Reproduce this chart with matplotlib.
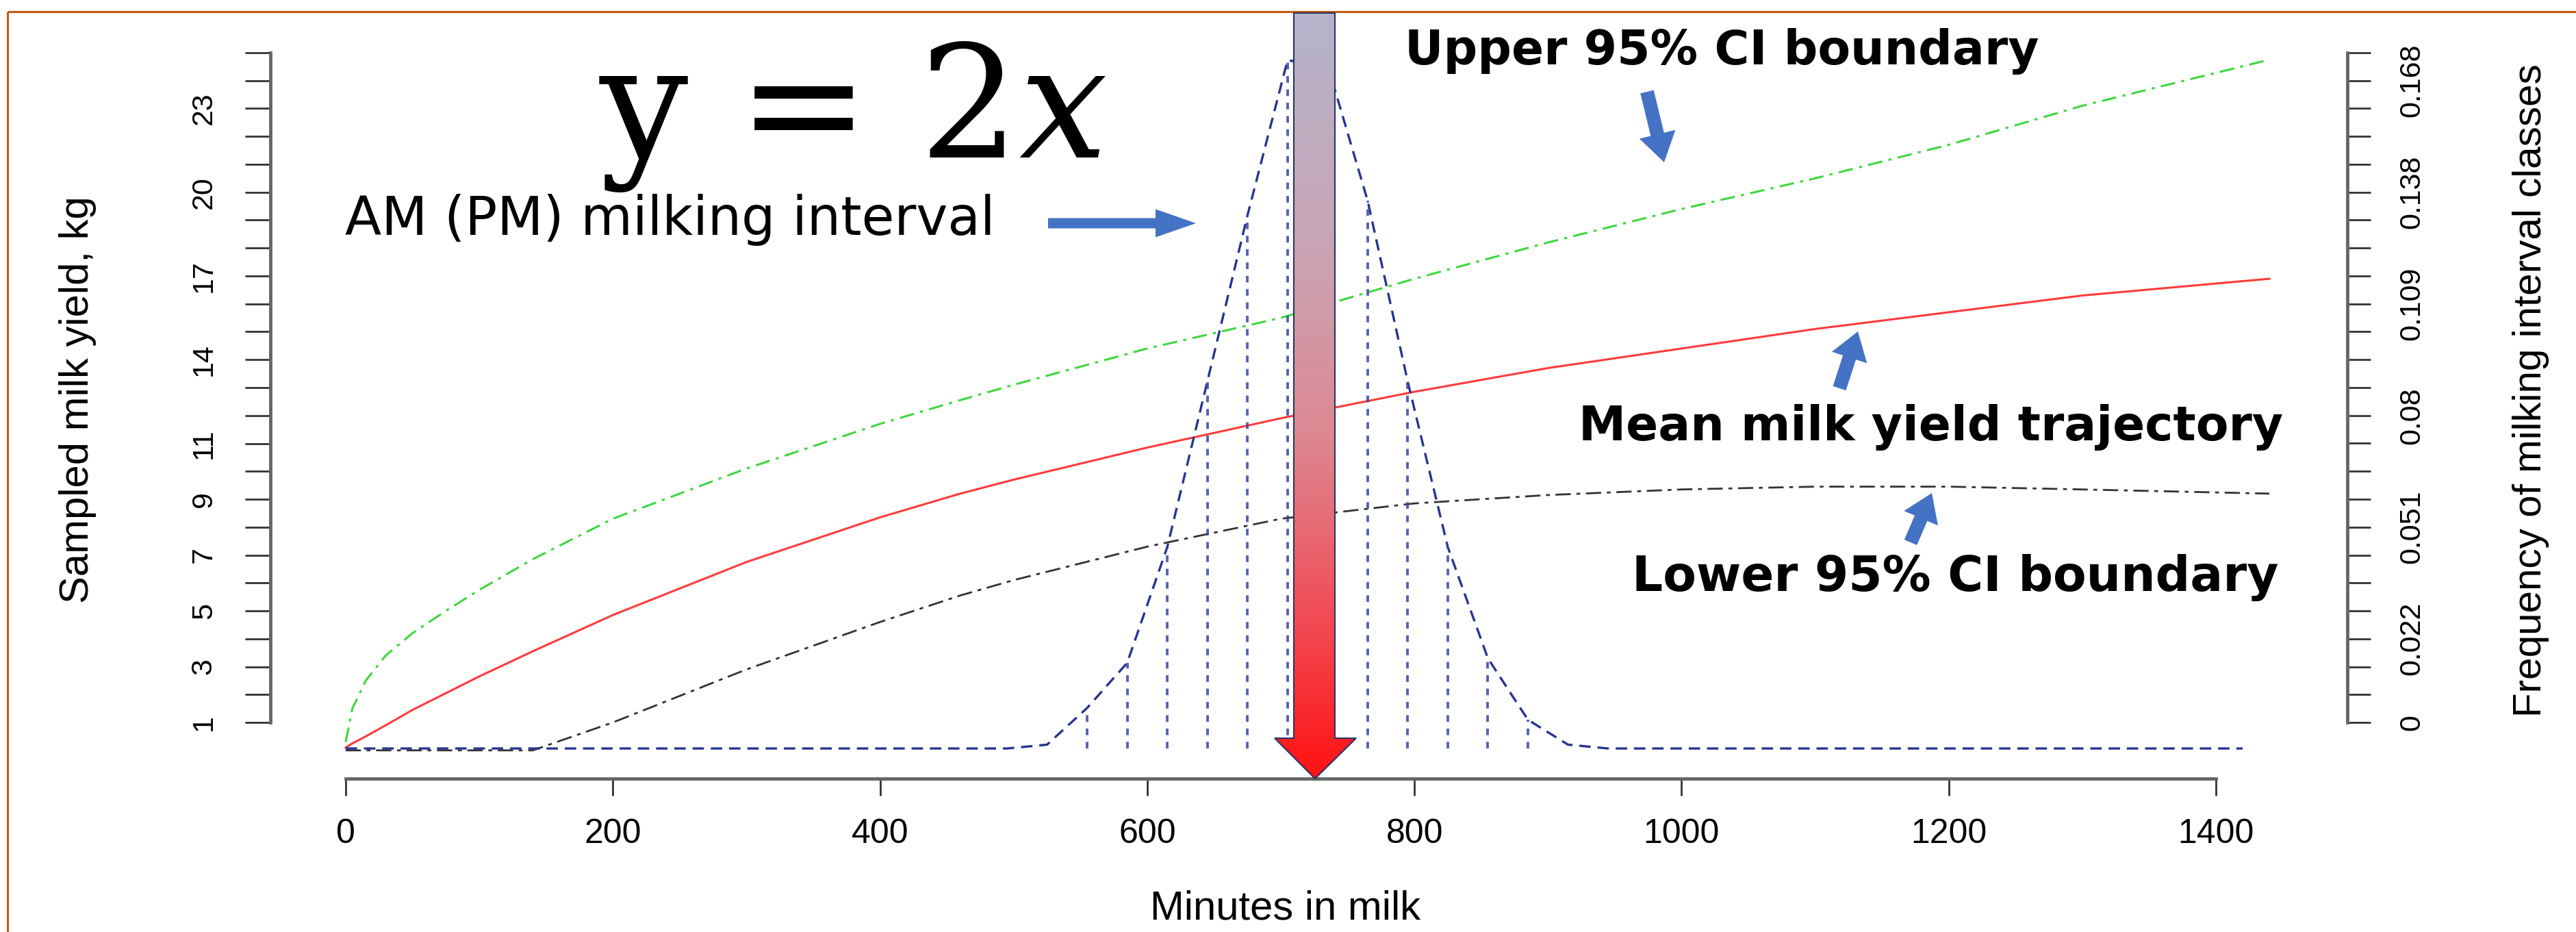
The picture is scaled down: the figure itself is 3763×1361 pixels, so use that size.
import numpy as np
import matplotlib
matplotlib.use("Agg")
import matplotlib.pyplot as plt
from matplotlib.colors import LinearSegmentedColormap
from matplotlib.patches import Polygon, FancyArrow

# milk yield trajectories, kg, against minutes in milk
minutes = [0, 5, 15, 30, 50, 75, 100, 140, 200, 300, 400, 460, 500, 600, 700, 800, 900, 1000, 1100, 1200, 1300, 1440]
mean_yield = [0.1, 0.25, 0.5, 0.9, 1.45, 2.05, 2.65, 3.55, 4.85, 6.75, 8.35, 9.2, 9.7, 10.85, 11.9, 12.85, 13.7, 14.4, 15.1, 15.7, 16.3, 16.9]
upper_ci = [0.3, 1.5, 2.5, 3.4, 4.2, 5.0, 5.75, 6.85, 8.3, 10.1, 11.7, 12.55, 13.1, 14.4, 15.5, 16.9, 18.2, 19.4, 20.5, 21.7, 23.1, 24.75]
lower_ci = [0, 0, 0, 0, 0, 0, 0, 0, 1.0, 2.9, 4.6, 5.55, 6.1, 7.3, 8.3, 8.85, 9.15, 9.35, 9.45, 9.45, 9.35, 9.2]

# frequency of milking interval classes (30 min classes)
interval_minutes = [0, 495, 525, 555, 585, 615, 645, 675, 705, 735, 765, 795, 825, 855, 885, 915, 945, 1420]
interval_freq = [0, 0, 0.001, 0.0106, 0.0224, 0.0527, 0.096, 0.1394, 0.18, 0.1788, 0.1433, 0.096,
                 0.0527, 0.0236, 0.0075, 0.001, 0, 0]
class_minutes = [555, 585, 615, 645, 675, 705, 735, 765, 795, 825, 855, 885]

yield_ticks = list(range(1, 26))
yield_labels = {1: "1", 3: "3", 5: "5", 7: "7", 9: "9", 11: "11", 14: "14", 17: "17", 20: "20", 23: "23"}
freq_labels = {1: "0", 4: "0.022", 8: "0.051", 12: "0.08", 16: "0.109", 20: "0.138", 24: "0.168"}
freq_per_tick = 0.0073
x_ticks = [0, 200, 400, 600, 800, 1000, 1200, 1400]

W, H = 3763, 1361
plt.rcParams["mathtext.fontset"] = "dejavuserif"

fig = plt.figure(figsize=(W / 100, H / 100), dpi=100, facecolor="white")
ax = fig.add_axes([395 / W, 1 - 1137 / H, (3429 - 395) / W, (1137 - 77) / H])

# pixel layout of the original R plot
px_per_min = (3237 - 505) / 1400
px_per_kg = 40.75
ax.set_xlim(-(505 - 395) / px_per_min, (3429 - 505) / px_per_min)
ylo, yhi = (1095.75 - 1137) / px_per_kg, (1095.75 - 77) / px_per_kg
ax.set_ylim(ylo, yhi)

ax.plot(minutes, upper_ci, color="#3fd63f", lw=2.2, ls=(0, (7, 3, 1.5, 3)))
ax.plot(minutes, mean_yield, color="#ff3b3b", lw=2.2)
ax.plot(minutes, lower_ci, color="#333333", lw=2.0, ls=(0, (8, 3, 2, 3)))

# frequency axis on the right
ax2 = ax.twinx()
base = (1095.75 - 1093) / px_per_kg
ax2.set_ylim((ylo - base) * freq_per_tick, (yhi - base) * freq_per_tick)
ax2.plot(interval_minutes, interval_freq, color="#26348f", lw=2.4, ls=(0, (5, 3)))
class_freq = [dict(zip(interval_minutes, interval_freq))[m] for m in class_minutes]
ax2.vlines(class_minutes, 0, class_freq, colors="#3a48a0", lw=2.8, linestyles=(0, (2.5, 2.5)), alpha=0.85)

for s in ["top", "right"]:
    ax.spines[s].set_visible(False)
for s in ["top", "left", "bottom"]:
    ax2.spines[s].set_visible(False)
ax.spines["left"].set_bounds(1, 25)
ax.spines["bottom"].set_bounds(0, 1400)
ax2.spines["right"].set_bounds((1 - base) * freq_per_tick, (25 - base) * freq_per_tick)
for sp in [ax.spines["left"], ax.spines["bottom"], ax2.spines["right"]]:
    sp.set_linewidth(3.5)
    sp.set_color("#666666")

ax.set_xticks(x_ticks, [str(t) for t in x_ticks])
ax.set_yticks(yield_ticks, [yield_labels.get(t, "") for t in yield_ticks])
ax2.set_yticks([(t - base) * freq_per_tick for t in yield_ticks], [freq_labels.get(t, "") for t in yield_ticks])

ax.tick_params(axis="x", direction="out", length=18, width=2, pad=24, labelsize=36, color="#333333")
ax.tick_params(axis="y", direction="out", length=26.6, width=2, pad=29, labelsize=31, labelrotation=90, color="#333333")
ax2.tick_params(axis="y", direction="out", length=24.5, width=2, pad=29, labelsize=31, labelrotation=90, color="#333333")
for lbl in ax.get_xticklabels() + ax.get_yticklabels() + ax2.get_yticklabels():
    lbl.set_fontfamily("Liberation Sans")
for lbl in ax.get_yticklabels() + ax2.get_yticklabels():
    lbl.set_va("center")

ax.set_xlabel("Minutes in milk", fontsize=43, family="Liberation Sans")
ax.xaxis.set_label_coords((1878 - 395) / 3034, (1137 - 1327) / 1060)
ax.xaxis.label.set_va("center")
ax.set_ylabel("Sampled milk yield, kg", fontsize=43, family="Liberation Sans")
ax.yaxis.set_label_coords((114 - 395) / 3034, (1137 - 584) / 1060)
ax.yaxis.label.set_va("center")
ax2.set_ylabel("Frequency of milking interval classes", fontsize=42, family="Liberation Sans")
ax2.yaxis.set_label_coords((3697 - 395) / 3034, (1137 - 570) / 1060)
ax2.yaxis.label.set_va("center")

# annotation layer in pixel units
ov = fig.add_axes([0, 0, 1, 1], zorder=10)
ov.set_xlim(0, W)
ov.set_ylim(H, 0)
ov.axis("off")
ov.patch.set_visible(False)

ov.plot([11, W], [17, 17], color="#c55a11", lw=2.2, solid_capstyle="butt")
ov.plot([11, 11], [17, H], color="#c55a11", lw=2.2, solid_capstyle="butt")

arrow_pts = [(1890, 19), (1950, 19), (1950, 1078), (1981, 1078), (1921, 1137), (1862, 1078), (1890, 1078)]
cmap = LinearSegmentedColormap.from_list("grad", [(0, "#b4b4ca"), (0.3, "#c9a5b5"), (0.55, "#dd8892"),
                                                  (0.8, "#f24a52"), (1, "#ff1212")])
im = ov.imshow(np.linspace(0, 1, 256).reshape(-1, 1), cmap=cmap, extent=[1862, 1981, 1137, 19], aspect="auto", zorder=3)
poly = Polygon(arrow_pts, closed=True, fill=False, edgecolor="#2b3366", lw=1.5, zorder=4)
ov.add_patch(poly)
im.set_clip_path(poly)
ov.set_xlim(0, W)
ov.set_ylim(H, 0)

blue = "#4472c4"
for x, y, dx, dy, w, hw, hl in [(1531, 326, 216, 0, 15, 41, 59), (2406, 134, 25, 103, 20, 54, 42),
                                (2687, 567, 27, -83, 20, 54, 40), (2791, 792, 31, -72, 20, 54, 40)]:
    ov.add_patch(FancyArrow(x, y, dx, dy, width=w, head_width=hw, head_length=hl,
                            length_includes_head=True, color=blue, lw=0, zorder=5))

ov.text(1246, 230, "y = 2$x$", fontsize=165, family="DejaVu Serif", ha="center", va="baseline", zorder=6)
ov.text(979, 343, "AM (PM) milking interval", fontsize=56, family="DejaVu Sans", ha="center", va="baseline", zorder=6)
ov.text(2515, 94, "Upper 95% CI boundary", fontsize=50, family="DejaVu Sans", weight="bold", ha="center", va="baseline", zorder=6)
ov.text(2820, 643, "Mean milk yield trajectory", fontsize=50, family="DejaVu Sans", weight="bold", ha="center", va="baseline", zorder=6)
ov.text(2856, 863, "Lower 95% CI boundary", fontsize=51, family="DejaVu Sans", weight="bold", ha="center", va="baseline", zorder=6)

fig.savefig("out.png", dpi=100, facecolor="white")
